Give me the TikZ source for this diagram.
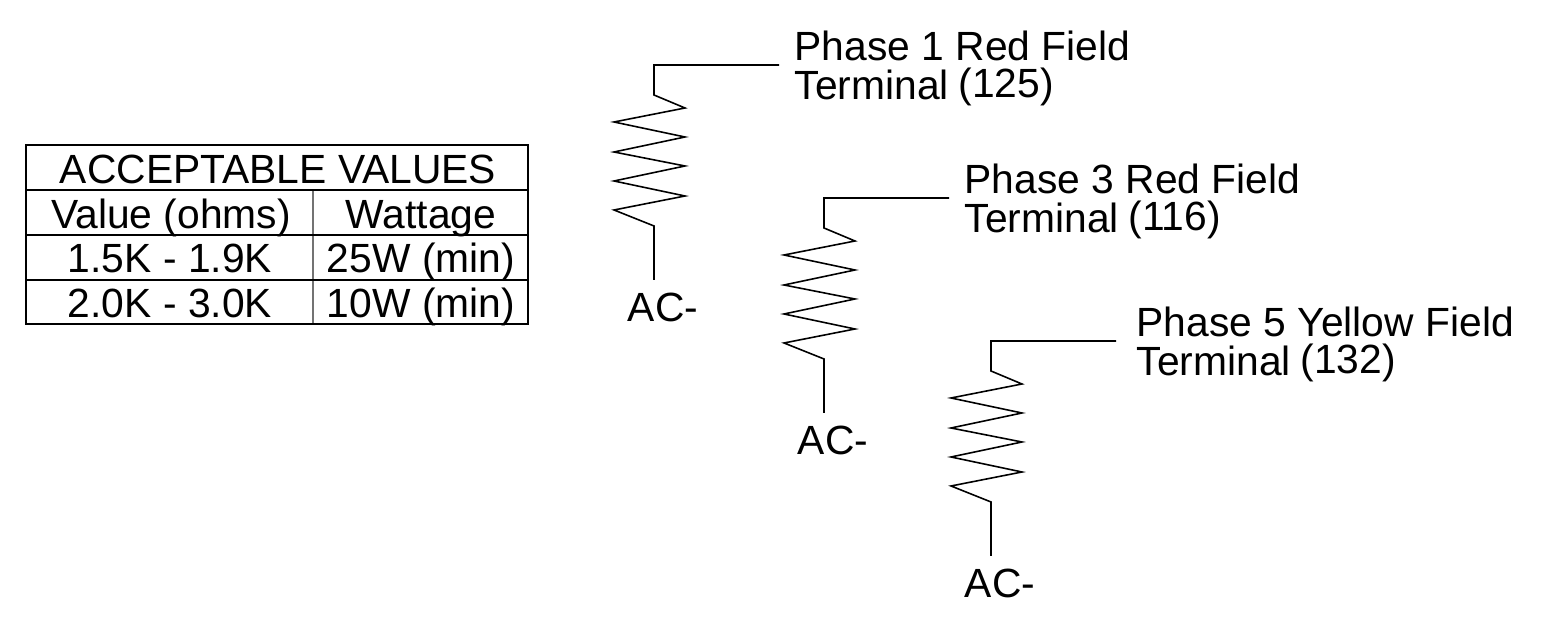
\documentclass[tikz,border=0pt]{standalone}
\usepackage{fontspec}
\setmainfont{Liberation Sans}
\usepackage{tikz}
\tikzset{
	lbl/.style={inner sep=0pt, font=\fontsize{11.6}{13}\selectfont, anchor=base},
	lblw/.style={lbl, anchor=base west},
	wire/.style={line width=0.45pt, line join=miter},
	rule/.style={line width=0.4pt},
	subrule/.style={line width=0.4pt, black!55}
}
\def\fieldres[#1](#2,#3)(#4:#5)(#6){
	\coordinate (#1top) at (#2+654, #3+65);
	\coordinate (#1end) at (#2+779, #3+65);
	\coordinate (#1bot) at (#2+654, #3+226);
	\coordinate (#1low) at (#2+654, #3+280);
	\node[lblw] (#1name) at (#2+#4+794, #3+61) {Phase #5};
	\node[lblw] (#1term) at (#2+#4+794, #3+100) {Terminal};
	\node[lblw] (#1num) at (#2+#4+958, #3+98) {(#6)};
	\node[lbl] (#1ac) at (#2+663, #3+322) {AC-};
	\draw[wire] (#1end) -- (#1top) -- (#2+654, #3+95) -- (#2+685, #3+108) -- (#2+614, #3+122)
		-- (#2+685, #3+137) -- (#2+614, #3+152) -- (#2+685, #3+166) -- (#2+614, #3+181)
		-- (#2+685, #3+196) -- (#2+614, #3+210) -- (#1bot) -- (#1low);
}

\begin{document}
\begin{tikzpicture}[x=0.01cm, y=-0.01cm]
		\useasboundingbox (0, 0) rectangle (1568, 634);
		%%%%% TABLE %%%%%
		\draw[subrule] (313, 190) -- (313, 324);
		\draw[rule] (26, 145) rectangle (528, 324);
		\draw[rule] (26, 190) -- (528, 190);
		\draw[rule] (26, 235) -- (528, 235);
		\draw[rule] (26, 280) -- (528, 280);
		
		\node[lbl] (title) at (278, 184) {ACCEPTABLE VALUES};
		\node[lbl] (valhead) at (171, 229) {Value (ohms)};
		\node[lbl] (wathead) at (421, 229) {Wattage};
		\node[lbl] (vala) at (170, 273) {1.5K - 1.9K};
		\node[lbl] (wata) at (421, 273) {25W (min)};
		\node[lbl] (valb) at (170, 318) {2.0K - 3.0K};
		\node[lbl] (watb) at (421, 318) {10W (min)};
		
		%%%%% FIELD RESISTORS %%%%%
		\fieldres[a](0, 0)(0:1 Red Field)(125)
		\fieldres[b](170, 133)(0:3 Red Field)(116)
		\fieldres[c](337, 276)(5:5 Yellow Field)(132)
\end{tikzpicture}
\end{document}
